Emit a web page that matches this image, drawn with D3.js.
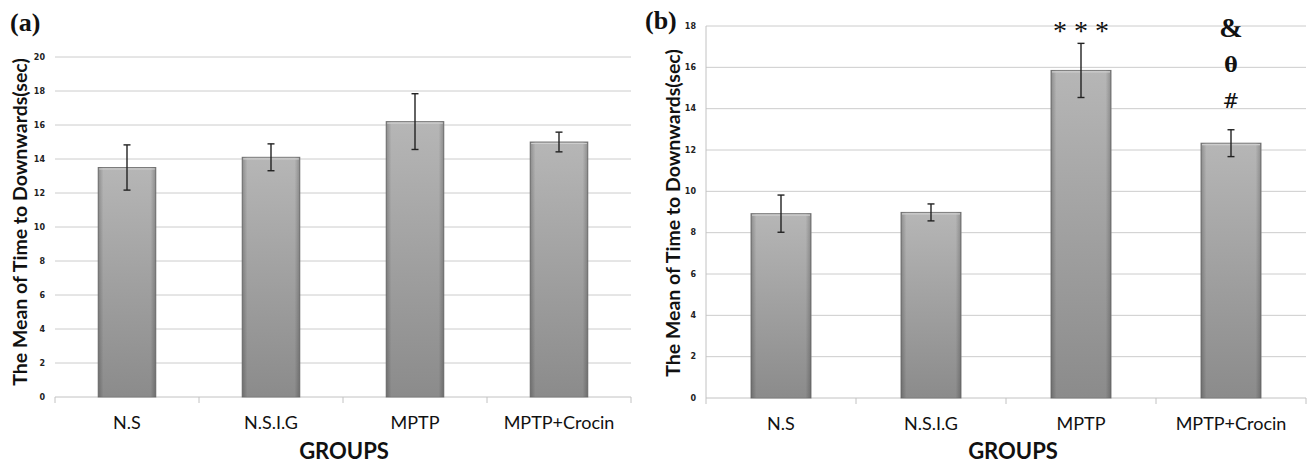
<!DOCTYPE html>
<html>
<head>
<meta charset="utf-8">
<script src="https://cdn.jsdelivr.net/npm/d3@7/dist/d3.min.js"></script>
<style>
body { margin: 0; background: #fff; }
.grid line { stroke: #cccccc; stroke-width: 1; }
.axisLine { stroke: #c2c2c2; stroke-width: 1; }
.tickLabel { font-family: "DejaVu Sans", sans-serif; font-weight: bold; font-size: 8px; fill: #222; }
.groupLabel { font-family: Lato, "Open Sans", sans-serif; font-size: 18px; fill: #111; }
.axisTitle { font-family: Lato, "Open Sans", sans-serif; font-weight: bold; fill: #111; }
.panelLabel { font-family: "Liberation Serif", serif; font-weight: bold; font-size: 26px; fill: #111; }
.errorBar { stroke: #222; stroke-width: 1.4; fill: none; }
.sign { fill: #111; text-anchor: middle; }
</style>
</head>
<body>
<div id="chart"></div>
<script>
// groups on the x axis (same for both panels)
var groups = ["N.S", "N.S.I.G", "MPTP", "MPTP+Crocin"];

// panel (a)
var meansA = [13.5, 14.1, 16.2, 15.0];
var errorsA = [1.33, 0.79, 1.64, 0.58];
var ticksA = [0, 2, 4, 6, 8, 10, 12, 14, 16, 18, 20];

// panel (b)
var meansB = [8.92, 8.98, 15.85, 12.33];
var errorsB = [0.9, 0.41, 1.31, 0.65];
var ticksB = [0, 2, 4, 6, 8, 10, 12, 14, 16, 18];
var signsB = [[], [], ["* * *"], ["#", "\u03b8", "&"]];

var yTitle = "The Mean of Time to Downwards(sec)";
var xTitle = "GROUPS";

var svg = d3.select("#chart").append("svg")
    .attr("width", 1308)
    .attr("height", 465);

//shared gradients for the bars
var defs = svg.append("defs");
var vGrad = defs.append("linearGradient").attr("id", "barFill")
    .attr("x1", 0).attr("y1", 0).attr("x2", 0).attr("y2", 1);
vGrad.append("stop").attr("offset", "0%").attr("stop-color", "#b6b6b6");
vGrad.append("stop").attr("offset", "100%").attr("stop-color", "#8b8b8b");
var hGrad = defs.append("linearGradient").attr("id", "barEdge")
    .attr("x1", 0).attr("y1", 0).attr("x2", 1).attr("y2", 0);
hGrad.append("stop").attr("offset", "0%").attr("stop-color", "#000").attr("stop-opacity", 0.22);
hGrad.append("stop").attr("offset", "9%").attr("stop-color", "#000").attr("stop-opacity", 0);
hGrad.append("stop").attr("offset", "91%").attr("stop-color", "#000").attr("stop-opacity", 0);
hGrad.append("stop").attr("offset", "100%").attr("stop-color", "#000").attr("stop-opacity", 0.22);

//font, size, weight and lift above the error bar of each sign
var signStyles = {
    "* * *": ["Liberation Serif", 28, "normal", 3],
    "#": ["DejaVu Serif", 20, "normal", 22],
    "\u03b8": ["DejaVu Serif", 20, "bold", 58],
    "&": ["Liberation Serif", 28, "bold", 93]
};

/**
 * Draws one bar panel
 */
function drawPanel(opt) {
    var g = svg.append("g");

    var x = d3.scaleBand().domain(groups).range([opt.left, opt.right]);
    var y = d3.scaleLinear().domain([0, opt.max]).range([opt.bottom, opt.top]);
    var bw = x.bandwidth();

    //gridlines
    g.append("g").attr("class", "grid").selectAll("line").data(opt.ticks.filter(function (d) { return d > 0; }))
        .enter().append("line")
        .attr("x1", opt.left).attr("x2", opt.right)
        .attr("y1", function (d) { return y(d); })
        .attr("y2", function (d) { return y(d); });

    //x axis line + ticks at band edges
    g.append("line").attr("class", "axisLine")
        .attr("x1", opt.left).attr("x2", opt.right)
        .attr("y1", y(0)).attr("y2", y(0));
    var edges = groups.map(function (d) { return x(d); }).concat([opt.right]);
    g.selectAll(".xTick").data(edges).enter().append("line")
        .attr("class", "axisLine")
        .attr("x1", function (d) { return d; }).attr("x2", function (d) { return d; })
        .attr("y1", y(0)).attr("y2", y(0) + 6);

    if (opt.yLine) {
        g.append("line").attr("class", "axisLine")
            .attr("x1", opt.left).attr("x2", opt.left)
            .attr("y1", y(opt.max)).attr("y2", y(0));
    }

    //y tick labels
    g.selectAll(".tickLabel").data(opt.ticks).enter().append("text")
        .attr("class", "tickLabel")
        .attr("x", opt.left - 10)
        .attr("y", function (d) { return y(d); })
        .attr("dy", "0.35em")
        .attr("text-anchor", "end")
        .text(function (d) { return d; });

    //bars
    var bx = function (d) { return x(d) + bw * 0.3; };
    g.selectAll(".bar").data(groups).enter().append("rect")
        .attr("x", bx)
        .attr("y", function (d, i) { return y(opt.means[i]); })
        .attr("width", bw * 0.4)
        .attr("height", function (d, i) { return y(0) - y(opt.means[i]); })
        .attr("fill", "url(#barFill)")
        .attr("stroke", "#7c7c7c")
        .attr("stroke-width", 1);
    g.selectAll(".barEdge").data(groups).enter().append("rect")
        .attr("x", bx)
        .attr("y", function (d, i) { return y(opt.means[i]); })
        .attr("width", bw * 0.4)
        .attr("height", function (d, i) { return y(0) - y(opt.means[i]); })
        .attr("fill", "url(#barEdge)");
    g.selectAll(".barTop").data(groups).enter().append("line")
        .attr("x1", function (d) { return bx(d) + 1; })
        .attr("x2", function (d) { return bx(d) + bw * 0.4 - 1; })
        .attr("y1", function (d, i) { return y(opt.means[i]) + 1.5; })
        .attr("y2", function (d, i) { return y(opt.means[i]) + 1.5; })
        .attr("stroke", "#cdcdcd").attr("stroke-width", 1.2);

    //error bars
    var cx = function (d) { return x(d) + bw / 2; };
    var err = g.selectAll(".err").data(groups).enter().append("g").attr("class", "errorBar");
    err.append("line")
        .attr("x1", cx).attr("x2", cx)
        .attr("y1", function (d, i) { return y(opt.means[i] + opt.errors[i]); })
        .attr("y2", function (d, i) { return y(opt.means[i] - opt.errors[i]); });
    [1, -1].forEach(function (s) {
        err.append("line")
            .attr("x1", function (d) { return cx(d) - 3.5; })
            .attr("x2", function (d) { return cx(d) + 3.5; })
            .attr("y1", function (d, i) { return y(opt.means[i] + s * opt.errors[i]); })
            .attr("y2", function (d, i) { return y(opt.means[i] + s * opt.errors[i]); });
    });

    //group labels
    g.selectAll(".groupLabel").data(groups).enter().append("text")
        .attr("class", "groupLabel")
        .attr("x", cx)
        .attr("y", y(0) + 32)
        .attr("text-anchor", "middle")
        .text(function (d) { return d; });

    //axis titles
    g.append("text").attr("class", "axisTitle")
        .attr("x", (opt.left + opt.right) / 2 + opt.xTitleShift)
        .attr("y", 459)
        .attr("text-anchor", "middle")
        .style("font-size", "22px")
        .text(xTitle);
    g.append("text").attr("class", "axisTitle")
        .attr("transform", "translate(" + opt.yTitleX + "," + opt.yTitleY + ") rotate(-90)")
        .attr("text-anchor", "middle")
        .style("font-size", "19.5px")
        .text(yTitle);

    //panel letter
    g.append("text").attr("class", "panelLabel")
        .attr("x", opt.labelX).attr("y", opt.labelY)
        .text(opt.label);

    //significance signs
    if (opt.signs) {
        groups.forEach(function (d, i) {
            opt.signs[i].forEach(function (s) {
                var st = signStyles[s];
                g.append("text").attr("class", "sign")
                    .attr("x", cx(d))
                    .attr("y", y(opt.means[i] + opt.errors[i]) - st[3])
                    .style("font-family", st[0])
                    .style("font-size", st[1] + "px")
                    .style("font-weight", st[2])
                    .text(s);
            });
        });
    }
}

drawPanel({
    means: meansA, errors: errorsA, ticks: ticksA, max: 20,
    left: 55, right: 631, top: 57, bottom: 397,
    yLine: false, label: "(a)", labelX: 10, labelY: 31,
    yTitleX: 27, yTitleY: 222, xTitleShift: 1
});

drawPanel({
    means: meansB, errors: errorsB, ticks: ticksB, max: 18, signs: signsB,
    left: 706, right: 1306, top: 26, bottom: 398,
    yLine: true, label: "(b)", labelX: 645, labelY: 29,
    yTitleX: 680, yTitleY: 213, xTitleShift: 7
});
</script>
</body>
</html>
